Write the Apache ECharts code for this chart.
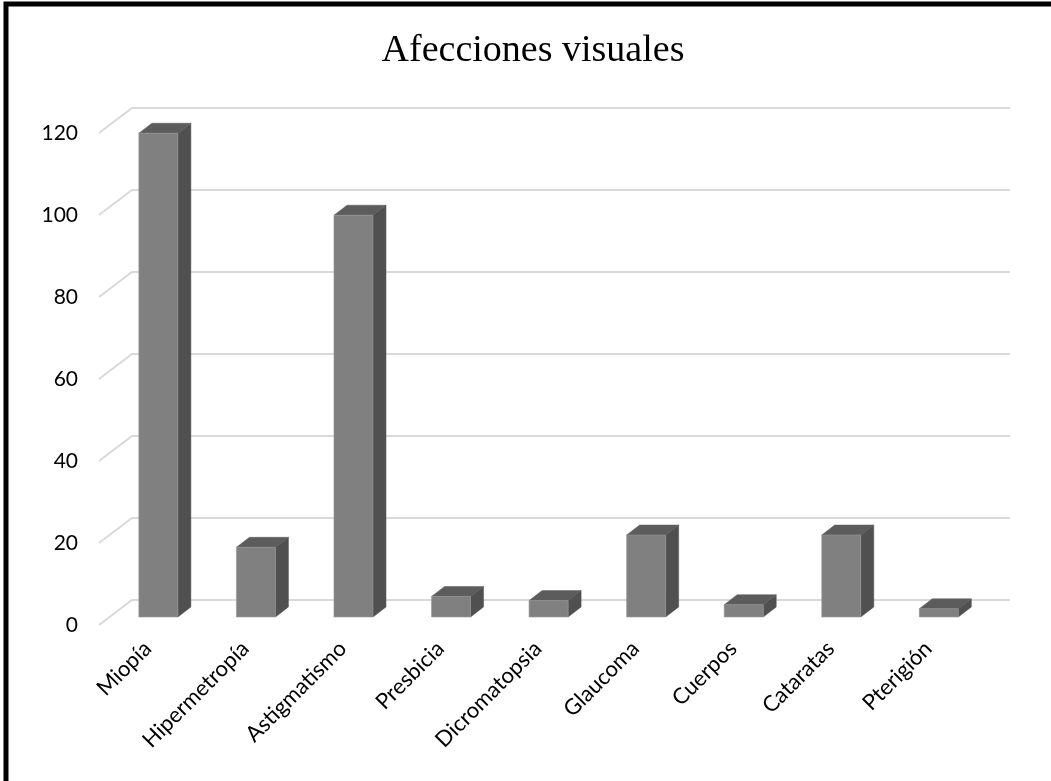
<!DOCTYPE html>
<html>
<head>
<meta charset="utf-8">
<title>Afecciones visuales</title>
<script src="https://cdn.jsdelivr.net/npm/echarts@6/dist/echarts.min.js"></script>
<style>
  html, body { margin: 0; padding: 0; background: #fff; }
  #chart { width: 1051px; height: 781px; }
</style>
</head>
<body>
<div id="chart"></div>
<script>
// Categories and counts
const categories = ['Miopía', 'Hipermetropía', 'Astigmatismo', 'Presbicia', 'Dicromatopsia', 'Glaucoma', 'Cuerpos', 'Cataratas', 'Pterigión'];
const counts = [118, 17, 98, 5, 4, 20, 3, 20, 2];
const yTicks = [0, 20, 40, 60, 80, 100, 120];

// 3D look: floor front -> bar front -> bar back -> back wall offsets (px)
const FLOOR_DEPTH = [33, -25];
const BAR_FRONT = [10.6, -8];
const BAR_DEPTH = [13, -10];
const BAR_WIDTH_RATIO = 0.4;

const FONT = 'Lato, "Open Sans", sans-serif';

const chart = echarts.init(document.getElementById('chart'), null, { renderer: 'canvas' });

function renderWall(params, api) {
  const cs = params.coordSys;
  const y = api.coord([0, api.value(1)])[1];
  const x0 = cs.x;
  const x1 = cs.x + cs.width;
  return {
    type: 'polyline',
    shape: {
      points: [
        [x0, y],
        [x0 + FLOOR_DEPTH[0], y + FLOOR_DEPTH[1]],
        [x1 + FLOOR_DEPTH[0], y + FLOOR_DEPTH[1]]
      ]
    },
    style: { stroke: '#d9d9d9', lineWidth: 2, fill: null },
    silent: true
  };
}

function renderBar(params, api) {
  const idx = api.value(0);
  const base = api.coord([idx, 0]);
  const top = api.coord([idx, api.value(1)]);
  const bw = api.size([1, 0])[0] * BAR_WIDTH_RATIO;
  const xl = base[0] + BAR_FRONT[0] - bw / 2;
  const xr = xl + bw;
  const yb = base[1] + BAR_FRONT[1];
  const yt = top[1] + BAR_FRONT[1];
  const dx = BAR_DEPTH[0], dy = BAR_DEPTH[1];
  const edge = 'rgba(150,150,150,0.6)';
  return {
    type: 'group',
    children: [
      {
        type: 'polygon',
        shape: { points: [[xr, yt], [xr + dx, yt + dy], [xr + dx, yb + dy], [xr, yb]] },
        style: { fill: '#505050', stroke: '#505050', lineWidth: 0.5 }
      },
      {
        type: 'polygon',
        shape: { points: [[xl, yt], [xl + dx, yt + dy], [xr + dx, yt + dy], [xr, yt]] },
        style: { fill: '#5c5c5c', stroke: '#5c5c5c', lineWidth: 0.5 }
      },
      {
        type: 'rect',
        shape: { x: xl, y: yt, width: bw, height: yb - yt },
        style: { fill: '#808080', stroke: edge, lineWidth: 1 }
      }
    ]
  };
}

const option = {
  backgroundColor: '#ffffff',
  animation: false,
  graphic: [
    {
      type: 'rect',
      shape: { x: 6, y: 4, width: 1060, height: 800 },
      style: { fill: null, stroke: '#000', lineWidth: 5 },
      silent: true,
      z: 100
    },
    {
      type: 'text',
      x: 533,
      y: 51,
      style: {
        text: 'Afecciones visuales',
        font: '38px "Liberation Serif", "Times New Roman", serif',
        fill: '#000',
        textAlign: 'center',
        textVerticalAlign: 'middle'
      }
    }
  ],
  grid: { left: 99, right: 74, top: 133, bottom: 156 },
  xAxis: {
    type: 'category',
    data: categories,
    axisLine: { show: false },
    axisTick: { show: false },
    axisLabel: {
      interval: 0,
      rotate: 45,
      margin: 20,
      color: '#000',
      fontFamily: FONT,
      fontSize: 22
    },
    splitLine: { show: false }
  },
  yAxis: {
    type: 'value',
    min: 0,
    max: 120,
    interval: 20,
    axisLine: { show: false },
    axisTick: { show: false },
    splitLine: { show: false },
    axisLabel: {
      margin: 21,
      color: '#000',
      fontFamily: FONT,
      fontSize: 21,
      formatter: v => (yTicks.includes(v) ? String(v) : '')
    }
  },
  series: [
    {
      type: 'custom',
      renderItem: renderWall,
      data: yTicks.map(v => [0, v]),
      encode: { x: 0, y: 1 },
      z: 1,
      silent: true
    },
    {
      type: 'custom',
      renderItem: renderBar,
      data: counts.map((v, i) => [i, v]),
      encode: { x: 0, y: 1 },
      z: 2
    }
  ]
};

chart.setOption(option);
</script>
</body>
</html>
